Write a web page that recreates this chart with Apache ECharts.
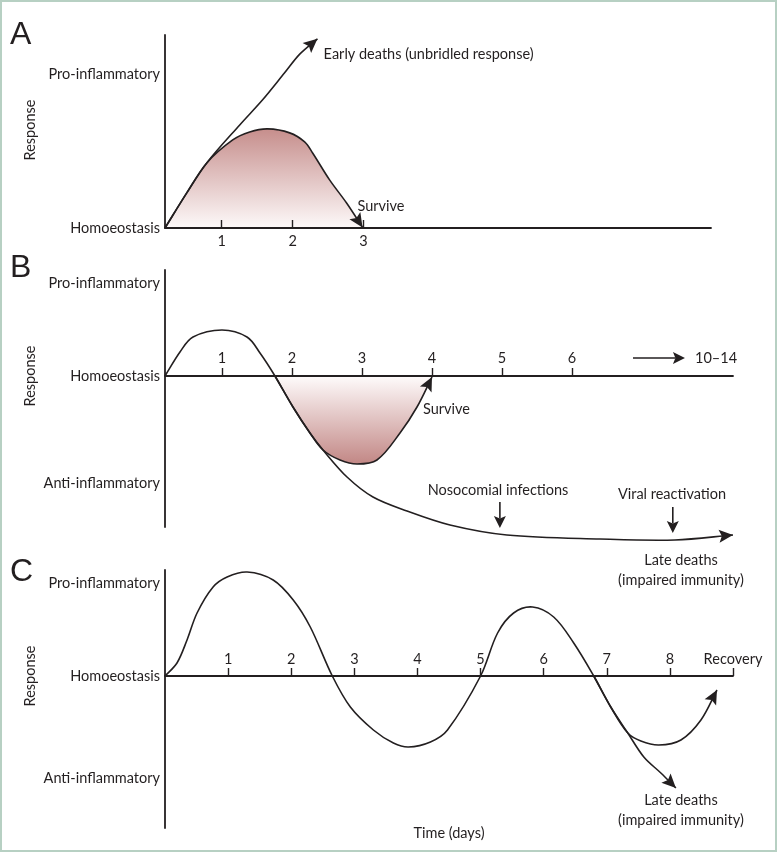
<!DOCTYPE html>
<html><head><meta charset="utf-8">
<script src="https://cdn.jsdelivr.net/npm/echarts@6/dist/echarts.min.js"></script>
<style>html,body{margin:0;padding:0;background:#fff}#c{width:777px;height:852px}</style>
</head><body><div id="c"></div>
<script>
// ---------- data ----------
const yLevelNames = ['Pro-inflammatory', 'Homoeostasis', 'Anti-inflammatory'];

// Panel A
const aXTicks = [1, 2, 3];
const aXTickLabels = ['1', '2', '3'];
const aYLabelValues = [1, 0];
const aEarlyDeaths = [[0.2,0],[0.507,0.229],[0.789,0.425],[1.254,0.673],[1.577,0.837],[1.887,1.013],[2.1,1.135],[2.35,1.235]];
const aSurvive = [[0.2,0],[0.507,0.229],[0.789,0.425],[1.155,0.575],[1.394,0.627],[1.648,0.647],[1.958,0.621],[2.169,0.562],[2.282,0.49],[2.521,0.314],[2.761,0.163],[2.986,0.004]];
const aNotes = [
  {text: 'Early deaths (unbridled response)', x: 2.437, y: 1.131},
  {text: 'Survive', x: 2.915, y: 0.144}
];

// Panel B
const bXTicks = [1, 2, 3, 4, 5, 6];
const bXTickLabels = ['1', '2', '3', '4', '5', '6'];
const bYLabelValues = [0.93, 0, -1.07];
const bMain = [[0.186,0],[0.4,0.24],[0.586,0.39],[1.0,0.46],[1.357,0.39],[1.543,0.23],[1.757,0],[2.014,-0.31],[2.257,-0.57],[2.443,-0.74],[2.786,-1.01],[3.157,-1.21],[3.643,-1.35],[4.257,-1.49],[5.07,-1.59],[6.4,-1.63],[7.47,-1.64],[8.3,-1.59]];
const bSurvive = [[1.757,0],[2.014,-0.31],[2.257,-0.57],[2.443,-0.74],[2.686,-0.84],[2.929,-0.88],[3.214,-0.84],[3.543,-0.57],[3.786,-0.31],[4.0,-0.01]];
const bArrows = [
  [6.871, 0.18, 7.614, 0.18],     // -> 10–14
  [4.97, -1.26, 4.97, -1.52],     // nosocomial infections
  [7.44, -1.31, 7.44, -1.57]      // viral reactivation
];
const bNotes = [
  {text: '10–14', x: 7.757, y: 0.18},
  {text: 'Survive', x: 3.871, y: -0.33},
  {text: 'Nosocomial infections', x: 4.943, y: -1.14, center: true},
  {text: 'Viral reactivation', x: 7.429, y: -1.18, center: true},
  {text: 'Late deaths', x: 7.557, y: -1.84, center: true},
  {text: '(impaired immunity)', x: 7.557, y: -2.04, center: true}
];

// Panel C
const cXTicks = [1, 2, 3, 4, 5, 6, 7, 8, 9];
const cXTickLabels = ['1', '2', '3', '4', '5', '6', '7', '8', 'Recovery'];
const cYLabelValues = [0.93, 0, -1.02];
const cRecovery = [[0,0],[0.19,0.13],[0.349,0.36],[0.508,0.63],[0.762,0.89],[0.984,0.99],[1.302,1.04],[1.714,0.96],[2.032,0.76],[2.302,0.49],[2.651,0],[2.937,-0.31],[3.302,-0.54],[3.619,-0.67],[3.857,-0.71],[4.206,-0.66],[4.476,-0.54],[5.0,0],[5.27,0.43],[5.524,0.63],[5.825,0.69],[6.159,0.59],[6.476,0.33],[6.794,0],[7.063,-0.31],[7.333,-0.57],[7.54,-0.65],[7.825,-0.69],[8.175,-0.64],[8.492,-0.44],[8.746,-0.14]];
const cLateDeaths = [[6.794,0],[7.063,-0.31],[7.333,-0.57],[7.587,-0.81],[7.857,-0.97],[8.095,-1.12]];
const cNotes = [
  {text: 'Late deaths', x: 8.175, y: -1.24, center: true},
  {text: '(impaired immunity)', x: 8.175, y: -1.44, center: true}
];

// ---------- styling / helpers ----------
const INK = '#231f20';
const FONT = 'Lato';
const FS = 14.5;

function lastTwo(arr) {
  const a = arr[arr.length - 2], b = arr[arr.length - 1];
  return [a[0], a[1], b[0], b[1]];
}
function pick(values, names) {
  return function (v) {
    for (let i = 0; i < values.length; i++) if (Math.abs(values[i] - v) < 1e-6) return names[i];
    return '';
  };
}
// cubic spline (chord-length aware Catmull-Rom) through pixel points -> SVG path data
function splinePath(P) {
  const n = P.length;
  const dist = (a, b) => Math.hypot(b[0] - a[0], b[1] - a[1]) || 1e-6;
  const tan = P.map((p, i) => {
    const a = P[Math.max(0, i - 1)], b = P[Math.min(n - 1, i + 1)];
    const s = dist(a, b);
    return [(b[0] - a[0]) / s, (b[1] - a[1]) / s];
  });
  let d = 'M' + P[0][0] + ',' + P[0][1];
  for (let i = 0; i < n - 1; i++) {
    const p1 = P[i], p2 = P[i + 1], L = dist(p1, p2) / 3;
    d += ' C' + [p1[0] + tan[i][0] * L, p1[1] + tan[i][1] * L, p2[0] - tan[i + 1][0] * L, p2[1] - tan[i + 1][1] * L, p2[0], p2[1]].join(',');
  }
  return d;
}
function curve(g, pts, fill) {
  return {
    type: 'custom', xAxisIndex: g, yAxisIndex: g, clip: false, silent: true, z: fill ? 2 : 3,
    encode: {x: 0, y: 1}, data: pts,
    renderItem: function (params, api) {
      if (params.dataIndex !== 0) return null;
      const P = pts.map(p => api.coord(p));
      const d = splinePath(P);
      const children = [];
      if (fill) {
        const b0 = api.coord([pts[0][0], 0]), b1 = api.coord([pts[pts.length - 1][0], 0]);
        children.push({type: 'path', shape: {pathData: d + ' L' + b1[0] + ',' + b1[1] + ' L' + b0[0] + ',' + b0[1] + ' Z'}, style: {fill: fill, stroke: 'none'}});
      }
      children.push({type: 'path', shape: {pathData: d}, style: {fill: 'none', stroke: INK, lineWidth: 1.6}});
      return {type: 'group', children: children};
    }
  };
}
function arrows(g, list, shaft, len, half) {
  return {
    type: 'custom', xAxisIndex: g, yAxisIndex: g, clip: false, silent: true, z: 6,
    encode: {x: [0, 2], y: [1, 3]}, data: list,
    renderItem: function (params, api) {
      const p1 = api.coord([api.value(0), api.value(1)]);
      const p2 = api.coord([api.value(2), api.value(3)]);
      const dx = p2[0] - p1[0], dy = p2[1] - p1[1];
      const L = Math.hypot(dx, dy) || 1;
      const ux = dx / L, uy = dy / L, nx = -uy, ny = ux;
      const bx = p2[0] - ux * len, by = p2[1] - uy * len;
      const mx = p2[0] - ux * len * 0.8, my = p2[1] - uy * len * 0.8;
      const children = [];
      if (shaft) children.push({type: 'line', shape: {x1: p1[0], y1: p1[1], x2: mx, y2: my}, style: {stroke: INK, lineWidth: 1.6}});
      children.push({type: 'polygon', shape: {points: [[p2[0], p2[1]], [bx + nx * half, by + ny * half], [mx, my], [bx - nx * half, by - ny * half]]}, style: {fill: INK}});
      return {type: 'group', children: children};
    }
  };
}
function notes(g, list) {
  return {
    type: 'custom', xAxisIndex: g, yAxisIndex: g, clip: false, silent: true, z: 7,
    encode: {x: 0, y: 1}, data: list.map(n => [n.x, n.y]),
    renderItem: function (params, api) {
      const n = list[params.dataIndex];
      const p = api.coord([api.value(0), api.value(1)]);
      return {type: 'text', x: p[0], y: p[1], style: {text: n.text, fill: INK, fontFamily: FONT, fontSize: FS, align: n.center ? 'center' : 'left', verticalAlign: 'middle'}};
    }
  };
}
// tick labels drawn just above the on-zero axis line
function tickLabels(g, ticks, labels, lift) {
  return {
    type: 'custom', xAxisIndex: g, yAxisIndex: g, clip: false, silent: true, z: 7,
    encode: {x: 0, y: 1}, data: ticks.map(t => [t, 0]),
    renderItem: function (params, api) {
      const p = api.coord([api.value(0), api.value(1)]);
      return {type: 'text', x: p[0], y: p[1] - lift, style: {text: labels[params.dataIndex], fill: INK, fontFamily: FONT, fontSize: FS, align: 'center', verticalAlign: 'middle'}};
    }
  };
}
function xAx(g, min, max, ticks, labels, showLabels) {
  return {
    gridIndex: g, type: 'value', min: min, max: max, z: 10,
    axisLine: {show: true, onZero: true, lineStyle: {color: INK, width: 1.8}},
    splitLine: {show: false},
    axisTick: {show: true, inside: true, length: 8, customValues: ticks, lineStyle: {color: INK, width: 1.4}},
    axisLabel: {show: showLabels, margin: 6, customValues: ticks, formatter: pick(ticks, labels), color: INK, fontFamily: FONT, fontSize: FS}
  };
}
function yAx(g, min, max, vals, names) {
  return {
    gridIndex: g, type: 'value', min: min, max: max, z: 10,
    axisLine: {show: true, onZero: false, lineStyle: {color: INK, width: 1.8}},
    splitLine: {show: false}, axisTick: {show: false},
    axisLabel: {show: true, margin: 5, customValues: vals, formatter: pick(vals, names), color: INK, fontFamily: FONT, fontSize: FS}
  };
}
const pinkDown = new echarts.graphic.LinearGradient(0, 0, 0, 1, [{offset: 0, color: '#c68e8c'}, {offset: 1, color: '#fdf9f9'}]);
const pinkUp = new echarts.graphic.LinearGradient(0, 0, 0, 1, [{offset: 0, color: '#fefbfb'}, {offset: 1, color: '#c28785'}]);
const txt = (s, x, y) => ({type: 'text', silent: true, x: x, y: y, style: {text: s, fill: INK, fontFamily: FONT, fontSize: FS, align: 'center', verticalAlign: 'middle'}});

const chart = echarts.init(document.getElementById('c'), null, {renderer: 'canvas'});
chart.setOption({
  animation: false,
  backgroundColor: '#ffffff',
  grid: [
    {left: 165, top: 35, width: 546, height: 193},
    {left: 165, top: 270, width: 568, height: 257},
    {left: 165, top: 570, width: 568, height: 258}
  ],
  xAxis: [
    xAx(0, 0.2, 7.9, aXTicks, aXTickLabels, true),
    xAx(1, 0.186, 8.3, bXTicks, bXTickLabels, false),
    xAx(2, 0, 9, cXTicks, cXTickLabels, false)
  ],
  yAxis: [
    yAx(0, 0, 1.26, aYLabelValues, yLevelNames.slice(0, 2)),
    yAx(1, -1.51, 1.06, bYLabelValues, yLevelNames),
    yAx(2, -1.52, 1.06, cYLabelValues, yLevelNames)
  ],
  graphic: [
    {type: 'rect', silent: true, shape: {x: 1, y: 1, width: 775, height: 850}, style: {fill: 'none', stroke: '#b7d0c3', lineWidth: 2}},
    {type: 'text', silent: true, x: 10, y: 35, style: {text: 'A', fill: INK, fontFamily: 'Liberation Sans', fontSize: 32, verticalAlign: 'middle'}},
    {type: 'text', silent: true, x: 10, y: 268, style: {text: 'B', fill: INK, fontFamily: 'Liberation Sans', fontSize: 32, verticalAlign: 'middle'}},
    {type: 'text', silent: true, x: 10, y: 572, style: {text: 'C', fill: INK, fontFamily: 'Liberation Sans', fontSize: 32, verticalAlign: 'middle'}},
    Object.assign(txt('Response', 30, 130), {rotation: Math.PI / 2}),
    Object.assign(txt('Response', 30, 376), {rotation: Math.PI / 2}),
    Object.assign(txt('Response', 30, 676), {rotation: Math.PI / 2}),
    txt('Time (days)', 449, 833)
  ],
  series: [
    // A
    curve(0, aSurvive, pinkDown),
    curve(0, aEarlyDeaths),
    arrows(0, [lastTwo(aEarlyDeaths), lastTwo(aSurvive)], false, 14, 6.5),
    notes(0, aNotes),
    // B
    curve(1, bSurvive, pinkUp),
    curve(1, bMain),
    arrows(1, [lastTwo(bSurvive), lastTwo(bMain)], false, 14, 6.5),
    arrows(1, bArrows, true, 12, 6),
    notes(1, bNotes),
    tickLabels(1, bXTicks, bXTickLabels, 18),
    // C
    curve(2, cRecovery),
    curve(2, cLateDeaths),
    arrows(2, [lastTwo(cRecovery), lastTwo(cLateDeaths)], false, 14, 6.5),
    notes(2, cNotes),
    tickLabels(2, cXTicks, cXTickLabels, 17)
  ]
});
</script></body></html>
